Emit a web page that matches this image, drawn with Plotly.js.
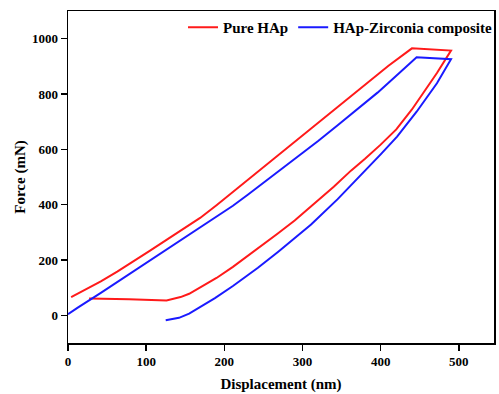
<!DOCTYPE html>
<html>
<head>
<meta charset="utf-8">
<script src="https://cdn.plot.ly/plotly-3.0.1.min.js"></script>
<style>html,body{margin:0;padding:0;background:#fff;}#chart{width:499px;height:394px;}</style>
</head>
<body>
<div id="chart"></div>
<script>
// Pure HAp: loading, hold, unloading
const pureX = [4, 20, 42, 63, 84, 105, 126, 148, 169, 190, 211, 230, 250, 277, 300, 320, 345, 365, 387, 410, 440,
               490,
               472, 450, 440, 420, 400, 380, 362, 340, 319, 290, 268, 247, 229, 211, 190, 169, 155, 144, 126, 78, 27];
const pureY = [66, 89, 123, 158, 195, 234, 273, 312, 352, 398, 446, 490, 536, 597, 649, 695, 750, 797, 848, 902, 965,
               957,
               876, 785, 744, 672, 617, 566, 523, 465, 415, 343, 295, 250, 212, 175, 135, 99, 78, 66, 54, 58, 61];
// HAp-Zirconia composite
const compX = [0, 12, 42, 63, 84, 105, 126, 148, 169, 190, 211, 230, 260, 285, 307, 320, 345, 370, 396, 420, 446,
               490,
               472, 446, 421, 400, 383, 368, 345, 311, 290, 269, 243, 228, 211, 188, 169, 155, 142, 125];
const compY = [4, 27, 81, 120, 159, 198, 237, 276, 315, 355, 396, 436, 500, 553, 601, 630, 687, 745, 805, 866, 933,
               926,
               839, 736, 646, 582, 532, 490, 420, 328, 278, 230, 172, 140, 106, 62, 28, 6, -9, -18];
const names = ["Pure HAp", "HAp-Zirconia composite"];
const xTitle = "Displacement (nm)";
const yTitle = "Force (mN)";

const serif = "'Liberation Serif', 'Times New Roman', serif";
const data = [
  {x: pureX, y: pureY, name: names[0], type: "scatter", mode: "lines",
   line: {color: "#ff1a1a", width: 2}},
  {x: compX, y: compY, name: names[1], type: "scatter", mode: "lines",
   line: {color: "#1a1aff", width: 2}}
];
const axisCommon = {
  showgrid: false, zeroline: false, showline: true, mirror: true,
  linecolor: "#000", linewidth: 1.5, ticks: "outside", ticklen: 6, tickwidth: 1.5,
  tickcolor: "#000", tickfont: {family: serif, size: 13, color: "#000", weight: "bold"}
};
const layout = {
  width: 499, height: 394,
  margin: {l: 68, r: 2, t: 11, b: 51},
  paper_bgcolor: "#fff", plot_bgcolor: "#fff",
  font: {family: serif, color: "#000"},
  showlegend: true,
  legend: {orientation: "h", x: 0.27, xanchor: "left", y: 1, yanchor: "top",
           bgcolor: "rgba(0,0,0,0)", font: {family: serif, size: 15, color: "#000", weight: "bold"}},
  xaxis: Object.assign({}, axisCommon, {range: [0, 545], dtick: 100, tick0: 0,
    title: {text: xTitle, font: {family: serif, size: 15, color: "#000", weight: "bold"}, standoff: 10}}),
  yaxis: Object.assign({}, axisCommon, {range: [-100, 1100], dtick: 200, tick0: 0,
    title: {text: yTitle, font: {family: serif, size: 15, color: "#000", weight: "bold"}, standoff: 2}})
};
Plotly.newPlot("chart", data, layout, {displayModeBar: false, staticPlot: true});
</script>
</body>
</html>
